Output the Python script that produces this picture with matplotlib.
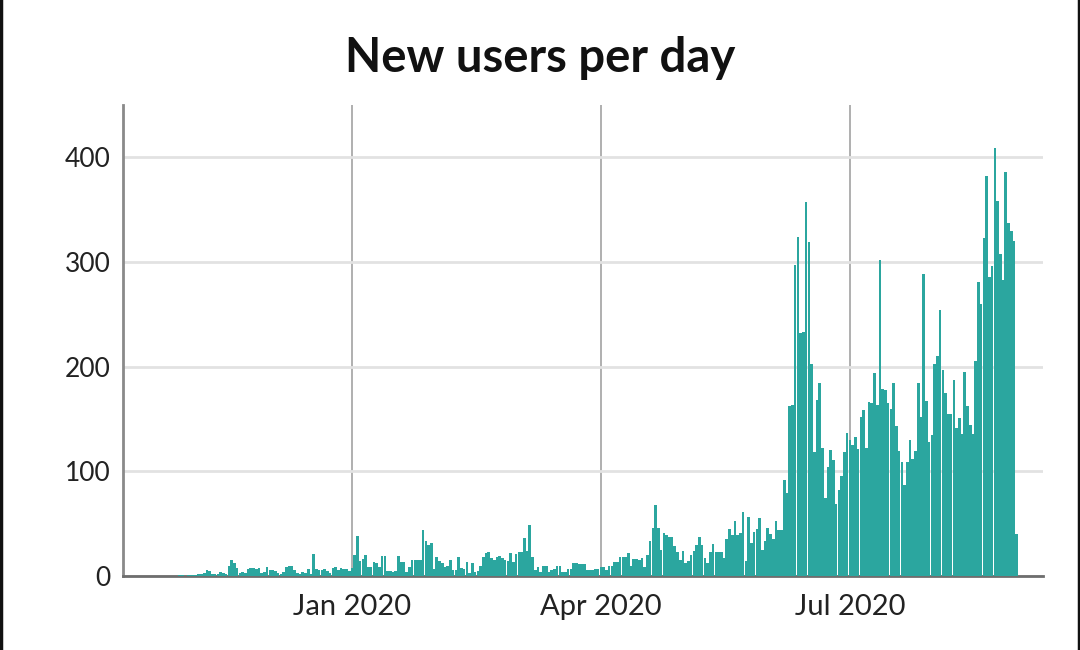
import matplotlib
matplotlib.use("Agg")
import matplotlib.pyplot as plt
from matplotlib.lines import Line2D
import pandas as pd

# ---- data: new users per day ----
start_date = "2019-10-30"
oct_2019 = [1, 1]
nov_2019 = [0, 1, 1, 1, 1, 2, 2, 3, 6, 5, 2, 2, 2, 4, 3, 2, 10, 15, 12, 8,
            3, 4, 3, 7, 8, 8, 7, 8, 3, 4]
dec_2019 = [9, 6, 6, 5, 3, 2, 4, 9, 10, 10, 6, 3, 2, 4, 3, 7, 2, 21, 7, 6,
            6, 7, 5, 3, 8, 9, 6, 8, 7, 7, 5]
jan_2020 = [8, 20, 38, 14, 16, 20, 9, 9, 13, 12, 9, 19, 19, 5, 5, 4, 5, 19, 13, 13,
            4, 9, 15, 15, 15, 15, 44, 33, 30, 32, 7]
feb_2020 = [18, 14, 12, 9, 10, 15, 6, 6, 18, 8, 7, 13, 3, 12, 4, 5, 10, 18, 22, 23,
            17, 15, 18, 19, 17, 15, 14, 22, 13]
mar_2020 = [21, 23, 23, 36, 24, 49, 18, 6, 9, 4, 10, 10, 4, 6, 7, 10, 10, 4, 4, 7,
            7, 12, 12, 11, 11, 11, 6, 6, 6, 7, 7]
apr_2020 = [9, 9, 6, 10, 10, 13, 13, 18, 18, 18, 22, 10, 16, 16, 15, 17, 9, 20, 33, 46,
            68, 46, 25, 41, 39, 37, 37, 29, 23, 15]
may_2020 = [24, 12, 14, 20, 24, 30, 37, 30, 17, 12, 23, 31, 23, 23, 23, 17, 35, 45, 39, 53,
            39, 41, 61, 14, 56, 32, 42, 45, 55, 25, 33]
jun_2020 = [46, 40, 35, 53, 44, 44, 92, 79, 162, 163, 297, 324, 232, 233, 357, 319, 203, 118, 168, 184,
            122, 75, 104, 120, 111, 69, 82, 96, 118, 137]
jul_2020 = [130, 125, 133, 121, 152, 159, 122, 166, 165, 194, 163, 302, 179, 178, 165, 160, 184, 143, 119, 109,
            87, 109, 130, 112, 119, 184, 152, 289, 167, 128, 135]
aug_2020 = [203, 210, 254, 197, 175, 155, 155, 187, 141, 151, 136, 195, 162, 144, 136, 205, 281, 260, 323, 382,
            286, 296, 409, 358, 308, 283, 386, 337, 330, 320, 40]

y_ticks = [0, 100, 200, 300, 400]
x_tick_dates = ["2020-01-01", "2020-04-01", "2020-07-01"]
x_tick_labels = ["Jan 2020", "Apr 2020", "Jul 2020"]
title = "New users per day"

values = oct_2019 + nov_2019 + dec_2019 + jan_2020 + feb_2020 + mar_2020 + \
    apr_2020 + may_2020 + jun_2020 + jul_2020 + aug_2020
dates = pd.date_range(start_date, periods=len(values), freq="D")

# ---- figure ----
plt.rcParams["font.family"] = ["Lato", "DejaVu Sans"]
fig = plt.figure(figsize=(10.8, 6.5), dpi=100)
ax = fig.add_axes([123 / 1080, 1 - 576 / 650, (1043 - 123) / 1080, (576 - 105) / 650])

bar_color = "#2ba69f"
ax.bar(dates, values, width=0.95, color=bar_color, edgecolor="none", zorder=3)

jan1 = pd.Timestamp("2020-01-01")
ax.set_xlim(jan1 - pd.Timedelta(days=83.7), jan1 + pd.Timedelta(days=252.6))
ax.set_ylim(0, 450)

ax.set_yticks(y_ticks)
ax.set_yticklabels([str(v) for v in y_ticks])
ax.set_xticks(pd.to_datetime(x_tick_dates))
ax.set_xticklabels(x_tick_labels)

ax.tick_params(axis="y", length=0, pad=9, labelsize=19, labelcolor="#222222")
ax.tick_params(axis="x", length=0, pad=13, labelsize=21, labelcolor="#222222")

ax.set_axisbelow(True)
ax.grid(axis="y", color="#e2e2e2", linewidth=2)
ax.grid(axis="x", color="#a9a9a9", linewidth=1.3)

for s in ["top", "right"]:
    ax.spines[s].set_visible(False)
ax.spines["left"].set_color("#8a8a8a")
ax.spines["left"].set_linewidth(2)
ax.spines["bottom"].set_color("#6e6e6e")
ax.spines["bottom"].set_linewidth(2)

fig.text(0.5, 1 - 58 / 650, title, ha="center", va="center",
         fontsize=34, fontweight="bold", color="#111111")

# thin dark border at the left and right edges of the picture
fig.add_artist(Line2D([0.001, 0.001], [0, 1], transform=fig.transFigure,
                      color="#111111", linewidth=2.5))
fig.add_artist(Line2D([0.999, 0.999], [0, 1], transform=fig.transFigure,
                      color="#111111", linewidth=2.5))

fig.savefig("out.png", dpi=100)
